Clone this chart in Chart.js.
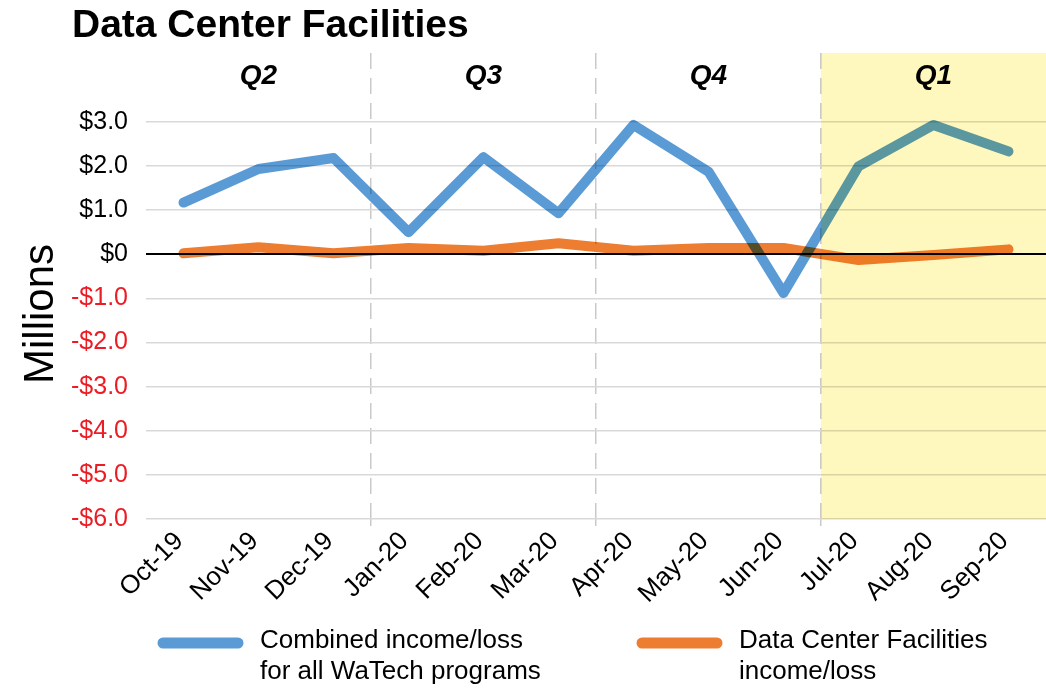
<!DOCTYPE html>
<html>
<head>
<meta charset="utf-8">
<title>Data Center Facilities</title>
<script src="https://cdn.jsdelivr.net/npm/chart.js@4"></script>
<style>
  html, body { margin: 0; padding: 0; background: #fff; }
  #wrap { position: relative; width: 1046px; height: 688px; }
</style>
</head>
<body>
<div id="wrap"><canvas id="chart" width="1046" height="688"></canvas></div>
<script>
// values (millions of dollars)
const months = ["Oct-19", "Nov-19", "Dec-19", "Jan-20", "Feb-20", "Mar-20",
                "Apr-20", "May-20", "Jun-20", "Jul-20", "Aug-20", "Sep-20"];
const combined = [1.17, 1.93, 2.18, 0.5, 2.2, 0.93, 2.93, 1.87, -0.88, 1.99, 2.93, 2.33];
const dataCenter = [0.02, 0.16, 0.02, 0.14, 0.08, 0.25, 0.08, 0.14, 0.14, -0.13, -0.02, 0.11];
const seriesNames = [
  ["Combined income/loss", "for all WaTech programs"],
  ["Data Center Facilities", "income/loss"]
];
const quarterNames = ["Q2", "Q3", "Q4", "Q1"];
const quarterMiddles = ["Nov-19", "Feb-20", "May-20", "Aug-20"];
const quarterStarts = ["Jan-20", "Apr-20", "Jul-20"];
const highlightFrom = "Jul-20";
const yTicks = [3, 2, 1, 0, -1, -2, -3, -4, -5, -6];

const FONT = "'Liberation Sans', Arial, sans-serif";
const BLUE = "#5b9bd5";
const ORANGE = "#ed7d31";
const RED = "#ec1c24";
const boundaryIdx = quarterStarts.map((m) => months.indexOf(m));

function money(v) {
  if (v === 0) return "$0";
  return (v < 0 ? "-" : "") + "$" + Math.abs(v).toFixed(1);
}

// lines + yellow band are blended with multiply, like the original
const blendPlugin = {
  id: "blend",
  beforeDatasetsDraw(chart) {
    chart.ctx.save();
    chart.ctx.globalCompositeOperation = "multiply";
  },
  afterDatasetsDraw(chart) {
    chart.ctx.restore();
    const { ctx, chartArea, scales } = chart;
    const i = months.indexOf(highlightFrom);
    const x0 = (scales.x.getPixelForValue(i - 1) + scales.x.getPixelForValue(i)) / 2;
    ctx.save();
    ctx.globalCompositeOperation = "multiply";
    ctx.fillStyle = "rgb(255, 248, 190)";
    ctx.fillRect(x0, chartArea.top, chart.width - x0, chartArea.bottom - chartArea.top);
    ctx.restore();
  }
};

const textPlugin = {
  id: "texts",
  afterDraw(chart) {
    const { ctx, chartArea, scales } = chart;
    ctx.save();
    ctx.fillStyle = "#000";

    // title
    ctx.font = "bold 39px " + FONT;
    ctx.textAlign = "left";
    ctx.textBaseline = "alphabetic";
    ctx.fillText("Data Center Facilities", 72, 37);

    // quarter labels
    ctx.font = "italic bold 28px " + FONT;
    ctx.textAlign = "center";
    quarterNames.forEach((q, k) => {
      const x = scales.x.getPixelForValue(months.indexOf(quarterMiddles[k]));
      ctx.fillText(q, x, chartArea.top + 31);
    });

    // y axis title
    ctx.save();
    ctx.translate(53, 314);
    ctx.rotate(-Math.PI / 2);
    ctx.font = "42px " + FONT;
    ctx.textAlign = "center";
    ctx.fillText("Millions", 0, 0);
    ctx.restore();

    // legend
    const items = [
      { color: BLUE, x: 158, lines: seriesNames[0] },
      { color: ORANGE, x: 637, lines: seriesNames[1] }
    ];
    ctx.font = "26px " + FONT;
    ctx.textAlign = "left";
    ctx.textBaseline = "middle";
    items.forEach((it) => {
      ctx.strokeStyle = it.color;
      ctx.lineWidth = 11;
      ctx.lineCap = "round";
      ctx.beginPath();
      ctx.moveTo(it.x + 5, 643);
      ctx.lineTo(it.x + 80, 643);
      ctx.stroke();
      ctx.fillText(it.lines[0], it.x + 102, 641);
      ctx.fillText(it.lines[1], it.x + 102, 672);
    });
    ctx.restore();
  }
};

new Chart(document.getElementById("chart"), {
  type: "line",
  data: {
    labels: months,
    datasets: [
      {
        label: seriesNames[0].join(" "),
        data: combined,
        borderColor: BLUE,
        backgroundColor: BLUE,
        borderWidth: 10,
        borderCapStyle: "round",
        borderJoinStyle: "round",
        pointRadius: 0,
        tension: 0
      },
      {
        label: seriesNames[1].join(" "),
        data: dataCenter,
        borderColor: ORANGE,
        backgroundColor: ORANGE,
        borderWidth: 10,
        borderCapStyle: "round",
        borderJoinStyle: "round",
        pointRadius: 0,
        tension: 0
      }
    ]
  },
  options: {
    responsive: false,
    animation: false,
    devicePixelRatio: 1,
    layout: { padding: { top: 53, left: 0, right: -4, bottom: 0 } },
    plugins: {
      legend: { display: false },
      title: { display: false },
      tooltip: { enabled: false }
    },
    scales: {
      x: {
        offset: true,
        afterFit(scale) { scale.height = 169; },
        grid: {
          offset: true,
          drawOnChartArea: true,
          lineWidth: 1.5,
          tickLength: 7,
          color: (c) => boundaryIdx.includes(c.index) ? "#c9c9c9" : "rgba(0,0,0,0)",
          tickColor: (c) => boundaryIdx.includes(c.index) ? "#c9c9c9" : "rgba(0,0,0,0)"
        },
        border: { display: false, dash: [16, 9] },
        ticks: {
          autoSkip: false,
          maxRotation: 45,
          minRotation: 45,
          padding: 0,
          labelOffset: -4,
          color: "#000",
          font: { family: FONT, size: 26 }
        }
      },
      y: {
        min: -6,
        max: 4.56,
        afterFit(scale) { scale.width = 146; },
        afterBuildTicks(scale) { scale.ticks = yTicks.map((v) => ({ value: v })); },
        grid: {
          drawTicks: false,
          lineWidth: (c) => c.tick && c.tick.value === 0 ? 2 : 1.5,
          color: (c) => c.tick && c.tick.value === 0 ? "#000" : "#d9d9d9"
        },
        border: { display: false },
        ticks: {
          padding: 18,
          color: (c) => c.tick.value < 0 ? RED : "#000",
          font: { family: FONT, size: 25 },
          callback: (v) => money(v)
        }
      }
    }
  },
  plugins: [blendPlugin, textPlugin]
});
</script>
</body>
</html>
